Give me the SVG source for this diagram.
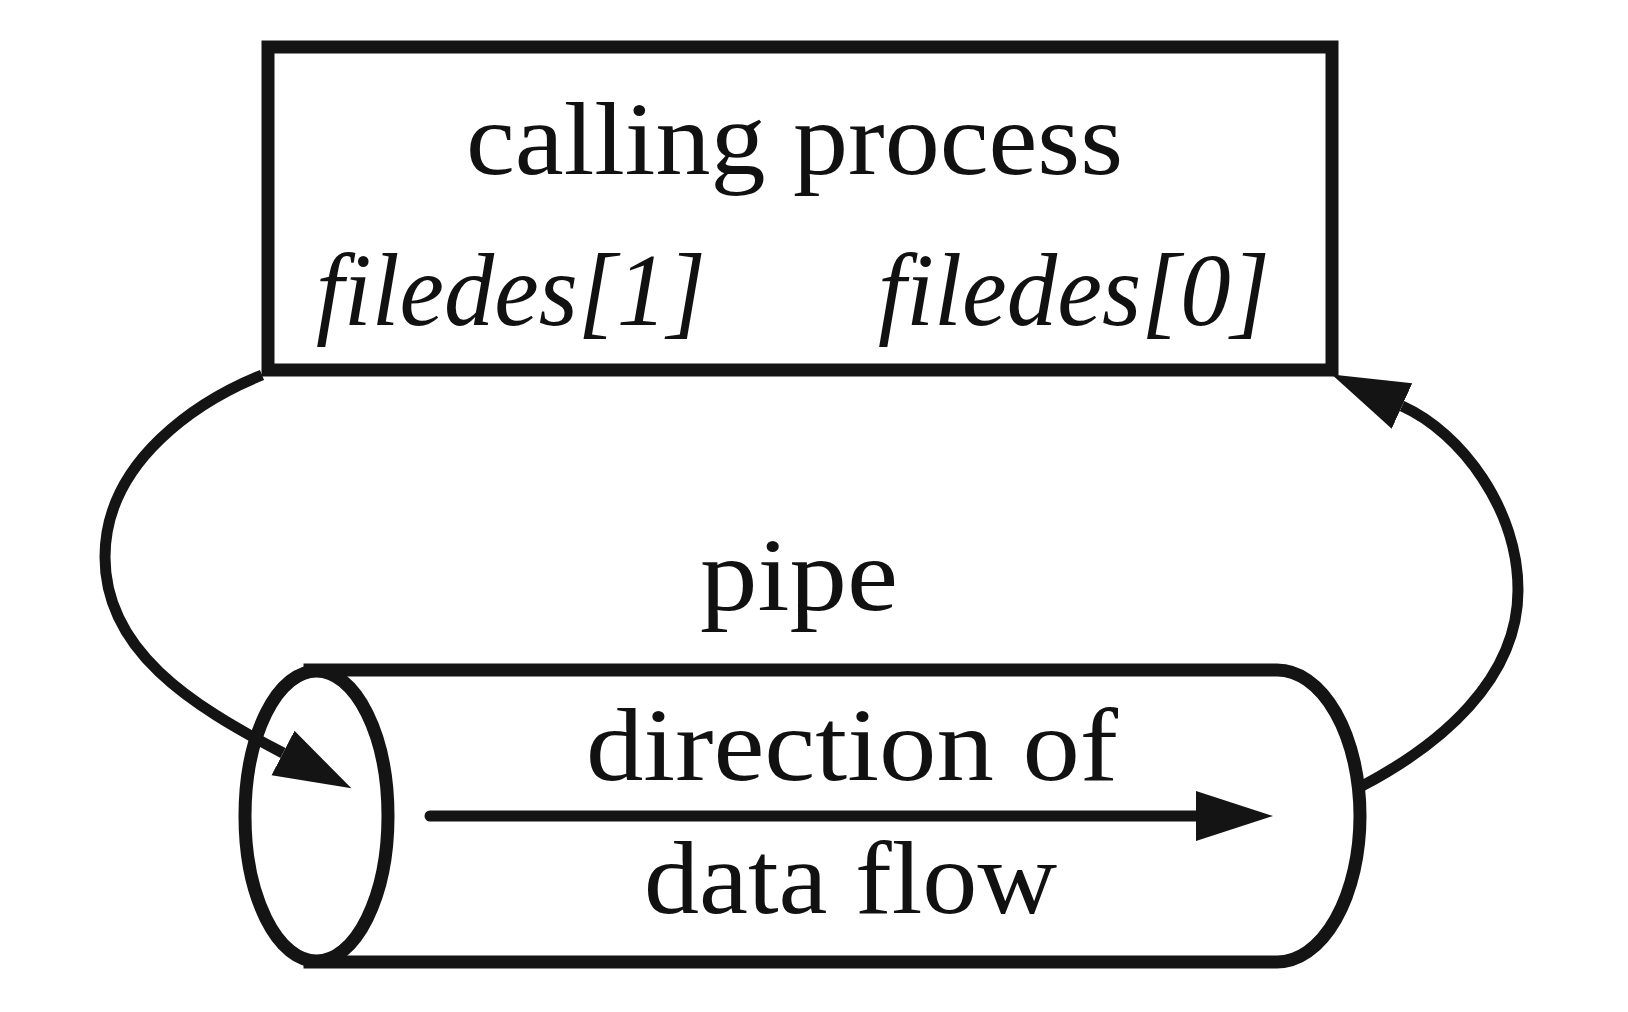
<svg xmlns="http://www.w3.org/2000/svg" width="1628" height="1012" viewBox="0 0 1628 1012">
<style>
.shape{fill:#fff;stroke:#141414;stroke-width:13}
.conn{fill:none;stroke:#141414;stroke-width:11}
.lbl{font-family:"Liberation Serif","Times New Roman",serif;font-size:104px;fill:#111}
.it{font-style:italic}
</style>
<defs>
<marker id="ah" markerUnits="userSpaceOnUse" markerWidth="80" markerHeight="54" viewBox="0 -27 80 54" refX="0" refY="0" orient="auto">
<path d="M0,-25 L77,0 L0,25 Z" fill="#141414"/>
</marker>
</defs>
<rect width="1628" height="1012" fill="#fff"/>
<g id="calling-process">
<rect class="shape" x="268" y="47" width="1064" height="323"/>
<text class="lbl" x="466" y="174" textLength="657" lengthAdjust="spacingAndGlyphs">calling process</text>
<text class="lbl it" x="316" y="325" textLength="390" lengthAdjust="spacingAndGlyphs">filedes[1]</text>
<text class="lbl it" x="878" y="325" textLength="392" lengthAdjust="spacingAndGlyphs">filedes[0]</text>
</g>
<g id="pipe">
<text class="lbl" x="700" y="610" textLength="198" lengthAdjust="spacingAndGlyphs">pipe</text>
<path class="shape" d="M310,670 L1277,670 A83,146 0 0 1 1277,962 L310,962 Z"/>
<ellipse class="shape" cx="316.5" cy="816" rx="71.5" ry="145"/>
<text class="lbl" x="586" y="780" textLength="532" lengthAdjust="spacingAndGlyphs">direction of</text>
<text class="lbl" x="644" y="913" textLength="413" lengthAdjust="spacingAndGlyphs">data flow</text>
</g>
<g id="connectors">
<path class="conn" d="M430,816 L1196,816" stroke-linecap="round" stroke-width="13" marker-end="url(#ah)"/>
<path class="conn" d="M262,375 C200,400 105,460 105,557 C105,650 190,705 283,753" marker-end="url(#ah)"/>
<path class="conn" d="M1362,786 C1440,745 1518,680 1518,590 C1518,510 1462,433 1402,406" marker-end="url(#ah)"/>
</g>
</svg>
